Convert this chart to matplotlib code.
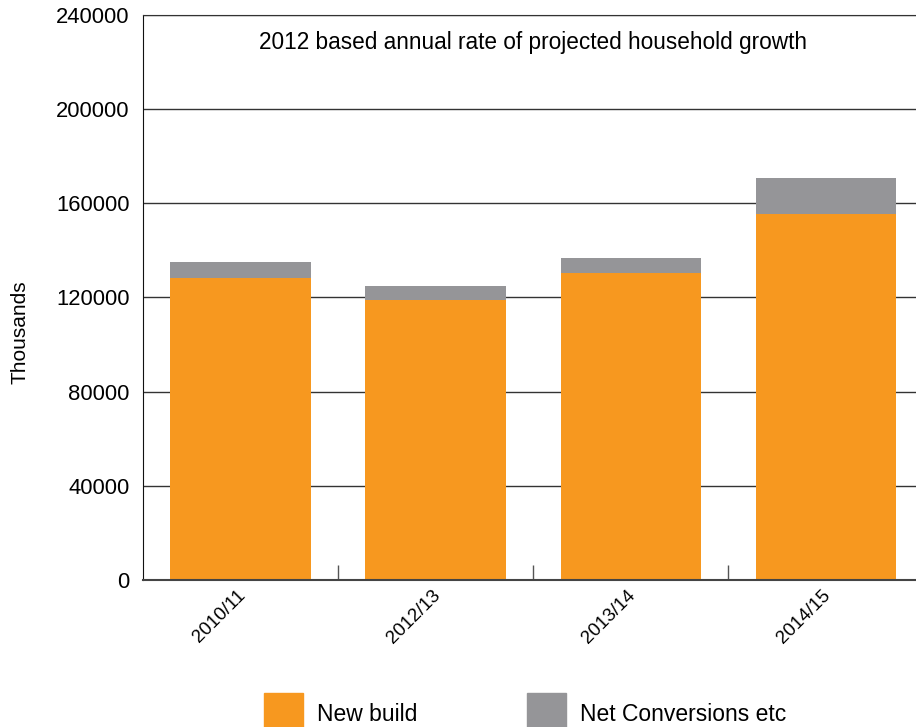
import numpy as np
import matplotlib.pyplot as plt
from matplotlib.patches import Patch
from matplotlib.transforms import ScaledTranslation

plt.rcParams['font.family'] = ['Liberation Sans', 'DejaVu Sans']

# annual household growth components
years = ['2010/11', '2012/13', '2013/14', '2014/15']
new_build = [128400, 118900, 130400, 155500]
net_conversions = [6700, 6000, 6400, 15200]
y_ticks = [0, 40000, 80000, 120000, 160000, 200000, 240000]

orange = '#F7981F'
grey = '#959598'

fig = plt.figure(figsize=(9.16, 7.27), dpi=100)
# the plot area runs a little past the right edge of the figure
ax = fig.add_axes([0.1561, 0.2022, 0.8521, 0.7772])

x = np.arange(len(years))
ax.bar(x, new_build, width=0.72, color=orange, zorder=2)
ax.bar(x, net_conversions, width=0.72, bottom=new_build, color=grey, zorder=2)

ax.set_xlim(-0.5, len(years) - 0.5)
ax.set_ylim(0, 240000)
ax.set_yticks(y_ticks)
ax.set_yticklabels([str(v) for v in y_ticks], fontsize=15.8)
ax.tick_params(axis='y', length=0, pad=9.5)
ax.yaxis.grid(True, color='#333333', linewidth=1.0, zorder=1)
ax.set_axisbelow(True)

ax.set_xticks(x)
ax.set_xticklabels(years, rotation=45, ha='right', rotation_mode='anchor',
                   fontsize=13.5)
ax.tick_params(axis='x', length=0, pad=5)
# nudge the slanted labels a little to the left
shift = ScaledTranslation(-0.04, 0, fig.dpi_scale_trans)
for lbl in ax.get_xticklabels():
    lbl.set_transform(lbl.get_transform() + shift)
# small separators between categories
ax.set_xticks(x[:-1] + 0.5, minor=True)
ax.tick_params(axis='x', which='minor', direction='in', length=11,
               width=1, color='#555555')

ax.set_ylabel('Thousands', fontsize=15)
ax.yaxis.set_label_coords(-0.146, 0.439)

ax.spines['right'].set_visible(False)
ax.spines['top'].set_color('#333333')
ax.spines['left'].set_color('#111111')
ax.spines['bottom'].set_color('#444444')
ax.spines['bottom'].set_linewidth(1.5)

ax.text(0.5, 0.951, '2012 based annual rate of projected household growth',
        transform=ax.transAxes, ha='center', va='center', fontsize=16.3)

handles = [Patch(color=orange, label='New build'),
           Patch(color=grey, label='Net Conversions etc')]
fig.legend(handles=handles, loc='upper center', bbox_to_anchor=(0.573, 0.0468),
           ncol=2, frameon=False, fontsize=16.5, handlelength=1.7,
           handleheight=2.45, handletextpad=0.6, columnspacing=4.8,
           borderpad=0, borderaxespad=0)

fig.savefig('out.png', dpi=100)
